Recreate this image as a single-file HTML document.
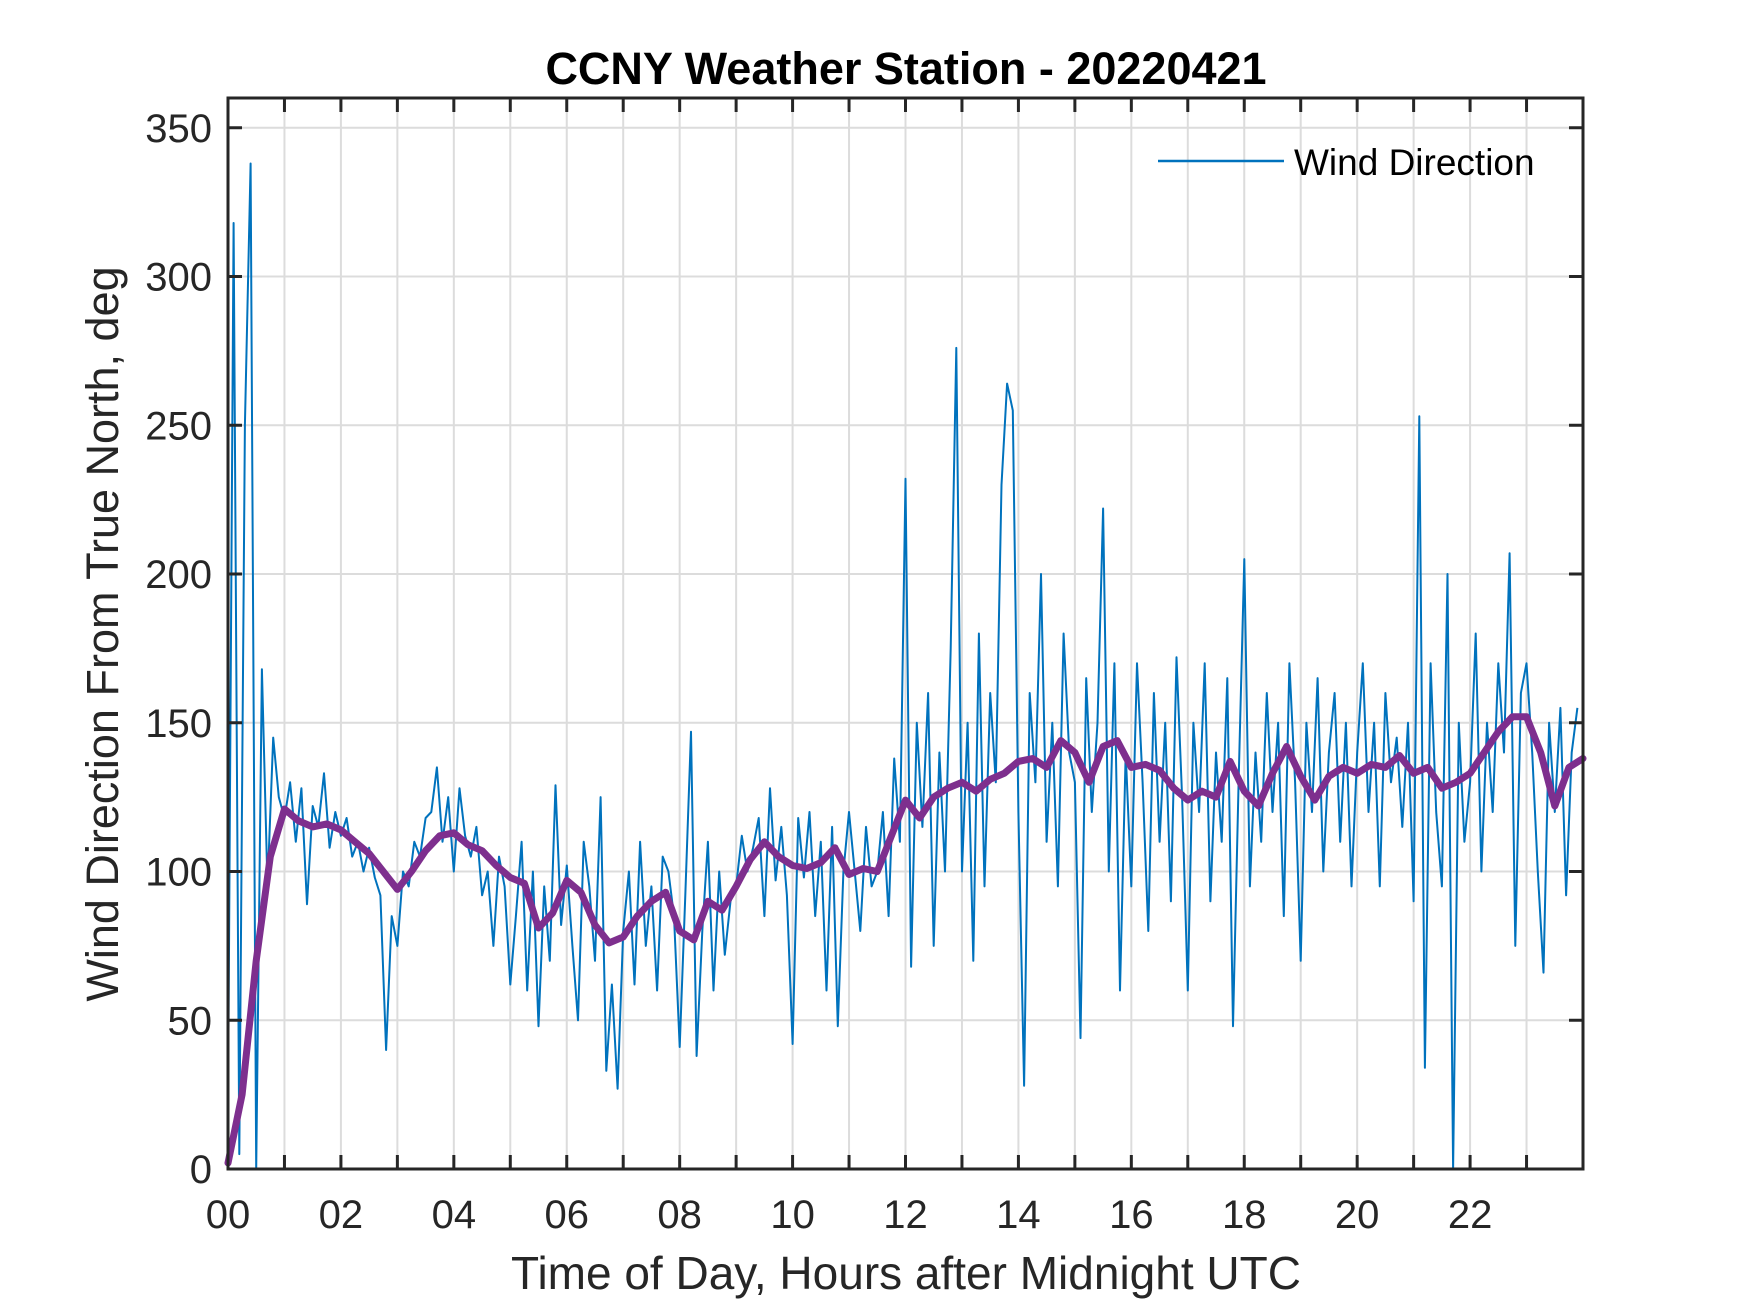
<!DOCTYPE html>
<html><head><meta charset="utf-8"><style>
html,body{margin:0;padding:0;background:#fff;}
svg{display:block;font-family:"Liberation Sans",Arial,sans-serif;}
</style></head><body>
<svg id="chart" width="1750" height="1313" viewBox="0 0 1750 1313" xmlns="http://www.w3.org/2000/svg">
<rect width="1750" height="1313" fill="#fff"/>
<g id="grid"></g>
<g id="series"></g>
<g id="axes"></g>
<text x="906" y="84" text-anchor="middle" font-size="45" font-weight="bold" fill="#000">CCNY Weather Station - 20220421</text>
<text x="906" y="1289" text-anchor="middle" font-size="46" fill="#262626">Time of Day, Hours after Midnight UTC</text>
<text transform="translate(118,634) rotate(-90)" text-anchor="middle" font-size="45" fill="#262626">Wind Direction From True North, deg</text>
<g>
<line x1="1158" y1="161" x2="1284" y2="161" stroke="#0072BD" stroke-width="2.5"/>
<text x="1294" y="175" font-size="37" fill="#000">Wind Direction</text>
</g>
</svg>
<script>
const xTicks = [0,2,4,6,8,10,12,14,16,18,20,22];
const xTickLabels = ["00","02","04","06","08","10","12","14","16","18","20","22"];
const yTicks = [0,50,100,150,200,250,300,350];
const yTickLabels = ["0","50","100","150","200","250","300","350"];
const xMax = 24;
const yMax = 360;
const rawStep = 0.1;
const windRaw = [
20,318,5,250,338,0,168,95,145,125,
118,130,110,128,89,122,115,133,108,120,
112,118,105,110,100,108,98,92,40,85,
75,100,95,110,105,118,120,135,110,125,
100,128,112,105,115,92,100,75,105,95,
62,85,110,60,100,48,95,70,129,82,
102,75,50,110,95,70,125,33,62,27,
80,100,62,110,75,95,60,105,100,85,
41,92,147,38,80,110,60,100,72,90,
95,112,100,108,118,85,128,97,115,92,
42,118,98,120,85,110,60,115,48,100,
120,100,80,115,95,100,120,85,138,110,
232,68,150,115,160,75,140,100,175,276,
100,150,70,180,95,160,130,230,264,255,
120,28,160,130,200,110,150,95,180,140,
130,44,165,120,150,222,100,170,60,140,
95,170,130,80,160,110,150,90,172,125,
60,150,120,170,90,140,110,165,48,130,
205,95,140,110,160,120,150,85,170,130,
70,150,120,165,100,140,160,110,150,95,
140,170,120,150,95,160,130,145,115,150,
90,253,34,170,120,95,200,0,150,110,
130,180,100,150,120,170,140,207,75,160,
170,140,100,66,150,120,155,92,140,155
];
const avgStep = 0.25;
const windAvg = [
2,25,70,105,121,117,115,116,114,110,106,100,94,100,107,112,113,109,107,102,
98,96,81,86,97,93,82,76,78,85,90,93,80,77,90,87,95,104,110,105,
102,101,103,108,99,101,100,112,124,118,125,128,130,127,131,133,137,138,135,144,
140,130,142,144,135,136,134,128,124,127,125,137,127,122,133,142,132,124,132,135,
133,136,135,139,133,135,128,130,133,140,147,152,152,140,122,135,138
];
const L=228,R=1583,T=98,B=1169;
const sx=v=>L+(R-L)*v/xMax, sy=v=>B-(B-T)*v/yMax;
const NS="http://www.w3.org/2000/svg";
function mk(tag,attrs,parent){const e=document.createElementNS(NS,tag);for(const k in attrs)e.setAttribute(k,attrs[k]);parent.appendChild(e);return e;}
const grid=document.getElementById('grid'),axes=document.getElementById('axes'),series=document.getElementById('series');
for(let h=0;h<=23;h++){const x=sx(h);
 const g=mk('line',{x1:x,y1:T,x2:x,y2:B,stroke:'#dcdcdc','stroke-width':2},grid);
 
 
 const t1=mk('line',{x1:x,y1:B,x2:x,y2:B-14,stroke:'#262626','stroke-width':3},axes);
 
 
 const t2=mk('line',{x1:x,y1:T,x2:x,y2:T+14,stroke:'#262626','stroke-width':3},axes);
 
 
}
yTicks.forEach((v,i)=>{const y=sy(v);
 const g=mk('line',{x1:L,y1:y,x2:R,y2:y,stroke:'#dcdcdc','stroke-width':2},grid);
 
 
 const t1=mk('line',{x1:L,y1:y,x2:L+14,y2:y,stroke:'#262626','stroke-width':3},axes);
 
 
 const t2=mk('line',{x1:R,y1:y,x2:R-14,y2:y,stroke:'#262626','stroke-width':3},axes);
 
 
 const lb=mk('text',{x:212,y:y+14,'text-anchor':'end','font-size':40,fill:'#262626'},axes);
 lb.textContent=yTickLabels[i];
 
 
});
xTicks.forEach((v,i)=>{
 const lb=mk('text',{x:sx(v),y:1228,'text-anchor':'middle','font-size':40,fill:'#262626'},axes);
 lb.textContent=xTickLabels[i];
 
 
});
const rawPts=windRaw.map((v,i)=>sx(Math.min(i*rawStep,xMax)).toFixed(1)+','+sy(v).toFixed(1)).join(' ');
const raw=mk('polyline',{points:rawPts,fill:'none',stroke:'#0072BD','stroke-width':2,'stroke-linejoin':'round'},series);


const avgPts=windAvg.map((v,i)=>sx(Math.min(i*avgStep,xMax)).toFixed(1)+','+sy(v).toFixed(1)).join(' ');
const avg=mk('polyline',{points:avgPts,fill:'none',stroke:'#7E2F8E','stroke-width':7,'stroke-linejoin':'round','stroke-linecap':'round'},series);


const box=mk('rect',{x:L,y:T,width:R-L,height:B-T,fill:'none',stroke:'#262626','stroke-width':3},axes);


</script>
</body></html>
